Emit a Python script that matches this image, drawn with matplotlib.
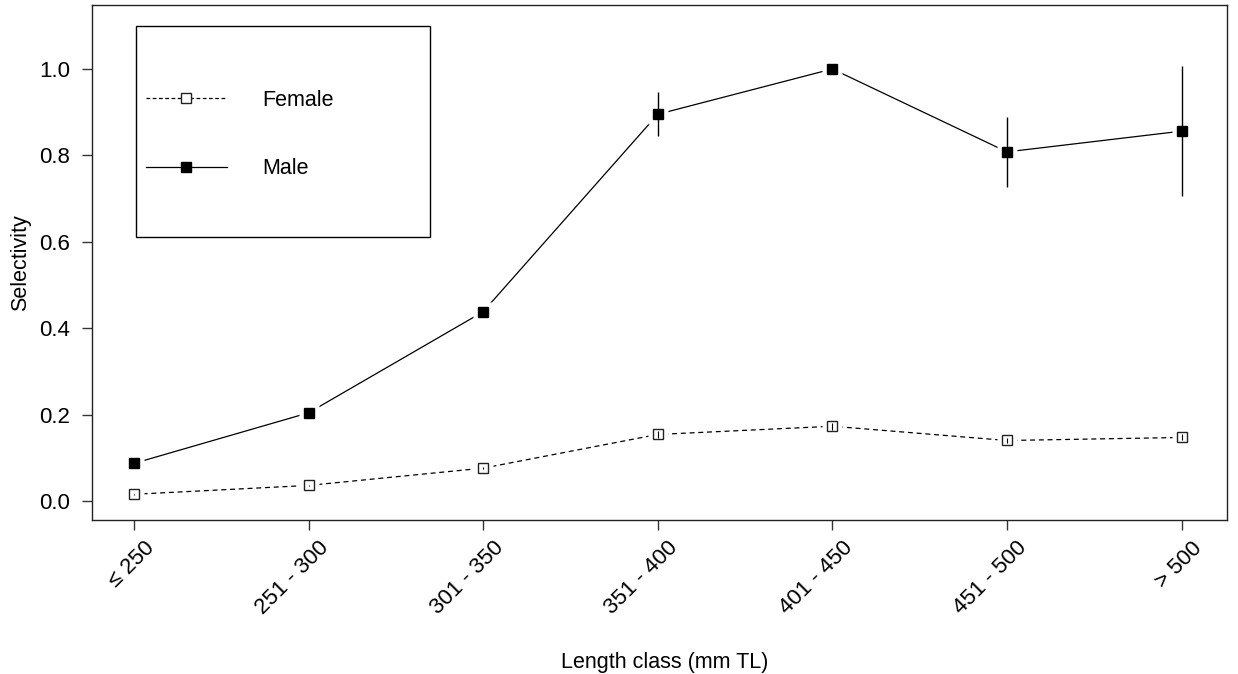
import matplotlib
matplotlib.use("Agg")
import matplotlib.pyplot as plt
import matplotlib.transforms as mtransforms
from matplotlib.patches import Rectangle
from matplotlib.lines import Line2D

plt.rcParams['font.family'] = ['Liberation Sans', 'DejaVu Sans']

# length classes (mm TL)
length_classes = ["\u2264 250", "251 - 300", "301 - 350", "351 - 400",
                  "401 - 450", "451 - 500", "> 500"]

# selectivity estimates and their error
male_sel = [0.087, 0.204, 0.438, 0.895, 1.0, 0.808, 0.856]
male_err = [0.004, 0.005, 0.012, 0.051, 0.0, 0.081, 0.150]
female_sel = [0.0155, 0.036, 0.076, 0.154, 0.173, 0.140, 0.147]
female_err = [0.001, 0.002, 0.003, 0.008, 0.008, 0.006, 0.007]

yticks = [0.0, 0.2, 0.4, 0.6, 0.8, 1.0]

fig = plt.figure(figsize=(12.38, 6.74), dpi=100)
ax = fig.add_axes([0.0743, 0.2285, 0.9168, 0.7641])

x = list(range(len(length_classes)))

# lines first, then white halo so the line stops short of each point (R type="b")
ax.plot(x, female_sel, color='black', lw=0.9, ls=(0, (4, 3)), zorder=2)
ax.plot(x, male_sel, color='black', lw=0.9, zorder=2)
ax.plot(x, female_sel, ls='none', marker='s', ms=15, mfc='white', mec='none', zorder=3)
ax.plot(x, male_sel, ls='none', marker='s', ms=15, mfc='white', mec='none', zorder=3)

# error bars
ax.errorbar(x, male_sel, yerr=male_err, fmt='none', ecolor='black', elinewidth=1, capsize=0, zorder=4)
ax.errorbar(x, female_sel, yerr=female_err, fmt='none', ecolor='black', elinewidth=0.8, capsize=0, zorder=5)

# points
ax.plot(x, male_sel, ls='none', marker='s', ms=7.5, mfc='black', mec='black', zorder=6)
ax.plot(x, female_sel, ls='none', marker='s', ms=7.5, mfc='none', mec='#222222', mew=1, zorder=6)

ax.set_xlim(-0.24, 6.26)
ax.set_ylim(-0.044, 1.148)
ax.set_xticks(x)
ax.set_xticklabels(length_classes, rotation=45, ha='right', va='center',
                   rotation_mode='anchor', fontsize=16)
ax.set_yticks(yticks)
ax.set_yticklabels(["%.1f" % v for v in yticks], fontsize=16)
ax.tick_params(axis='both', length=7.2, width=1, color='#333333')
ax.tick_params(axis='y', pad=8.6)
ax.tick_params(axis='x', pad=10.8)
shift = mtransforms.ScaledTranslation(0.17, 0, fig.dpi_scale_trans)
for lab in ax.get_xticklabels():
    lab.set_transform(lab.get_transform() + shift)
for sp in ax.spines.values():
    sp.set_color('#222222')
    sp.set_linewidth(1)

ax.set_xlabel("Length class (mm TL)", fontsize=15.5, va='top')
ax.xaxis.set_label_coords(0.505, -0.2563)
ax.set_ylabel("Selectivity", fontsize=15.5)
ax.yaxis.set_label_coords(-0.0537, 0.5)

# legend box drawn separately so its padding matches
ax.add_patch(Rectangle((0.0388, 0.5495), 0.259, 0.4097, transform=ax.transAxes,
                       fill=False, edgecolor='black', lw=1, zorder=7))
handles = [Line2D([], [], color='black', lw=0.9, ls=(0, (3, 2)), marker='s', ms=7.5,
                  mfc='white', mec='#222222'),
           Line2D([], [], color='black', lw=0.9, marker='s', ms=7.5, mfc='black', mec='black')]
ax.legend(handles, ["Female", "Male"], loc='upper left', bbox_to_anchor=(0.0476, 0.8354),
          frameon=False, borderpad=0, borderaxespad=0, fontsize=15.5, handlelength=3.75,
          handletextpad=1.65, labelspacing=2.2)

fig.savefig("out.png", dpi=100)
